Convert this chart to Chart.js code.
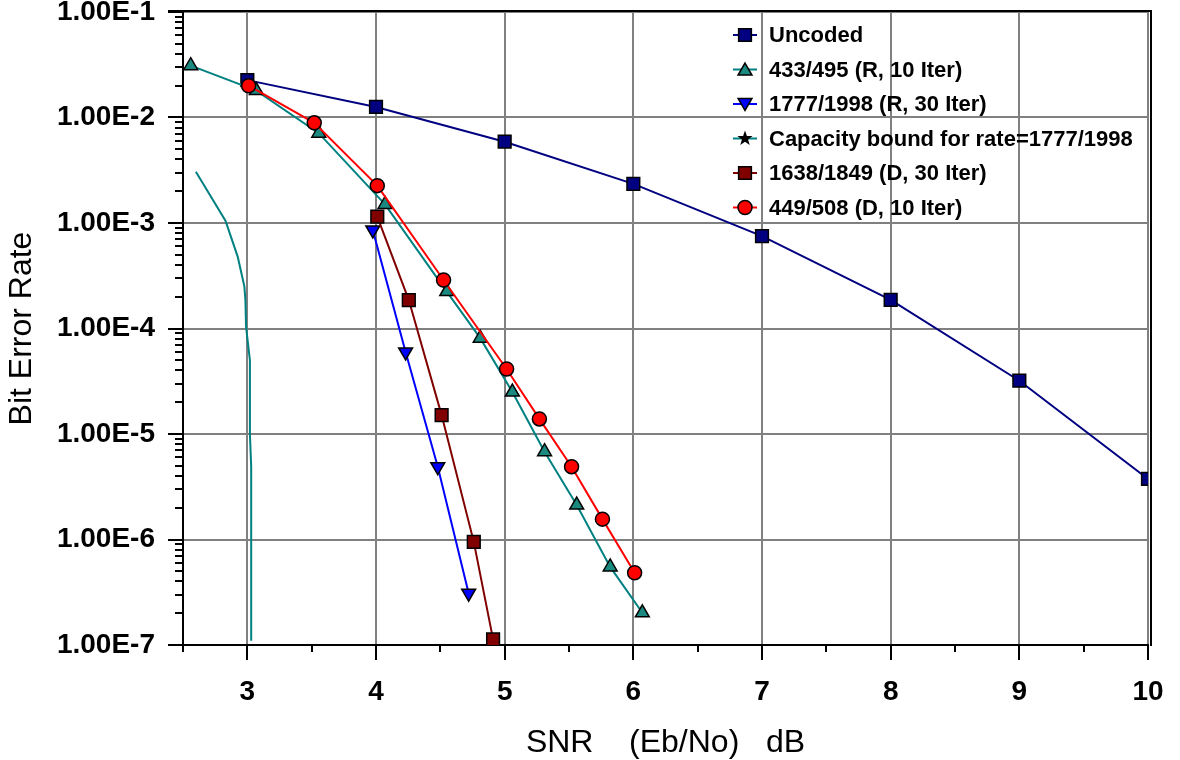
<!DOCTYPE html>
<html><head><meta charset="utf-8">
<script src="https://cdn.jsdelivr.net/npm/chart.js@4/dist/chart.umd.min.js"></script>
<style>html,body{margin:0;padding:0;background:#fff}</style>
</head><body>
<canvas id="c" width="1180" height="760"></canvas>
<script>
const seriesNames = ['Uncoded','433/495 (R, 10 Iter)','1777/1998 (R, 30 Iter)','Capacity bound for rate=1777/1998','1638/1849 (D, 30 Iter)','449/508 (D, 10 Iter)'];

const uncodedX = [3,4,5,6,7,8,9,10];
const uncodedY = [2.26e-2,1.26e-2,5.9e-3,2.35e-3,7.5e-4,1.87e-4,3.2e-5,3.75e-6];

const r433X = [2.56,3.07,3.555,4.07,4.55,4.81,5.06,5.31,5.56,5.82,6.07];
const r433Y = [3.1e-2,1.8e-2,7.1e-3,1.5e-3,2.24e-4,8.1e-5,2.5e-5,6.8e-6,2.12e-6,5.5e-7,2.02e-7];

const r1777X = [3.975,4.23,4.48,4.72];
const r1777Y = [8.6e-4,6.0e-5,4.9e-6,3.1e-7];

const capX = [2.60,2.83,2.925,2.977,2.985,2.99,3.02,3.02,3.03,3.03];
const capY = [3.06e-3,1.05e-3,4.8e-4,2.5e-4,1.86e-4,1.04e-4,5.0e-5,1.0e-5,4.9e-6,1.1e-7];

const d1638X = [4.01,4.255,4.51,4.76,4.91];
const d1638Y = [1.15e-3,1.86e-4,1.51e-5,9.5e-7,1.13e-7];

const d449X = [3.01,3.52,4.01,4.525,5.015,5.27,5.52,5.76,6.01];
const d449Y = [2.0e-2,8.9e-3,2.26e-3,2.88e-4,4.13e-5,1.39e-5,4.9e-6,1.56e-6,4.84e-7];

const xTickValues = [2.5,3,3.5,4,4.5,5,5.5,6,6.5,7,7.5,8,8.5,9,9.5,10];
const yDecades = [-7,-6,-5,-4,-3,-2,-1];

const FONT = '"Liberation Sans", Arial, sans-serif';

function pts(xs, ys){ return xs.map((v,i)=>({x:v,y:ys[i]})); }
function isDecade(v){ const l=Math.log10(v); return Math.abs(l-Math.round(l))<1e-9; }

const styles = [
  {color:'#000080', fill:'#000080', pointStyle:'rect', radius:9, rotation:0},
  {color:'#008080', fill:'#1a8a80', pointStyle:'triangle', radius:8, rotation:0},
  {color:'#0000ff', fill:'#0000ff', pointStyle:'triangle', radius:8, rotation:180},
  {color:'#008080', fill:'#000000', pointStyle:'star5', radius:0, rotation:0},
  {color:'#800000', fill:'#800000', pointStyle:'rect', radius:9, rotation:0},
  {color:'#ff0000', fill:'#ff0000', pointStyle:'circle', radius:7, rotation:0}
];
const seriesData = [pts(uncodedX,uncodedY), pts(r433X,r433Y), pts(r1777X,r1777Y), pts(capX,capY), pts(d1638X,d1638Y), pts(d449X,d449Y)];

const datasets = seriesNames.map((n,i)=>({
  label:n, data:seriesData[i],
  borderColor:styles[i].color, backgroundColor:styles[i].fill,
  pointStyle: styles[i].pointStyle==='star5' ? 'circle' : styles[i].pointStyle,
  pointRadius: styles[i].radius, pointRotation: styles[i].rotation,
  pointBorderColor:'#000', pointBorderWidth:1.5, pointBackgroundColor:styles[i].fill,
  borderWidth:2, tension:0, fill:false, showLine:true
}));
datasets.forEach((d,i)=>{ d.order = [5,3,2,4,1,0][i]; });

function drawMarker(ctx, st, x, y){
  ctx.save();
  ctx.fillStyle = st.fill; ctx.strokeStyle='#000'; ctx.lineWidth=1.5;
  ctx.beginPath();
  if (st.pointStyle==='rect'){ const s=st.radius*Math.SQRT1_2; ctx.rect(x-s,y-s,2*s,2*s); }
  else if (st.pointStyle==='circle'){ ctx.arc(x,y,st.radius,0,Math.PI*2); }
  else if (st.pointStyle==='triangle'){
    const r=st.radius, rot=st.rotation*Math.PI/180;
    for(let k=0;k<3;k++){ const a=rot - Math.PI/2 + k*2*Math.PI/3; const px=x+Math.cos(a)*r, py=y+Math.sin(a)*r + (st.rotation? -r*0.2 : r*0.2); k?ctx.lineTo(px,py):ctx.moveTo(px,py);} ctx.closePath();
  } else if (st.pointStyle==='star5'){
    const R=8, r=3.2;
    for(let k=0;k<10;k++){ const rad=k%2?r:R; const a=-Math.PI/2 + k*Math.PI/5; const px=x+Math.cos(a)*rad, py=y+Math.sin(a)*rad; k?ctx.lineTo(px,py):ctx.moveTo(px,py);} ctx.closePath();
  }
  ctx.fill(); if (st.pointStyle!=='star5') ctx.stroke();
  ctx.restore();
}

const framePlugin = {
  id:'framePlugin',
  afterDraw(chart){
    const {ctx, chartArea:a, scales:{x,y}} = chart;
    ctx.save();
    ctx.strokeStyle='#000'; ctx.lineWidth=2;
    y.ticks.forEach(t=>{ const py=Math.round(y.getPixelForValue(t.value)); const L=isDecade(t.value)?15:8; ctx.beginPath(); ctx.moveTo(a.left-L,py); ctx.lineTo(a.left,py); ctx.stroke(); });
    x.ticks.forEach(t=>{ const px=Math.round(x.getPixelForValue(t.value)); const L=Number.isInteger(t.value)?15:7; ctx.beginPath(); ctx.moveTo(px,a.bottom); ctx.lineTo(px,a.bottom+L); ctx.stroke(); });
    ctx.beginPath(); ctx.moveTo(a.left-15,a.top-1); ctx.lineTo(a.right+3,a.top-1); ctx.lineTo(a.right+3,a.bottom+1); ctx.stroke();
    ctx.font = 'bold 22px ' + FONT; ctx.textBaseline='middle'; ctx.textAlign='left'; ctx.fillStyle='#000';
    chart.data.datasets.forEach((d,i)=>{
      const yc = 35 + i*34.5;
      ctx.strokeStyle = d.borderColor; ctx.lineWidth=2;
      ctx.beginPath(); ctx.moveTo(733,yc); ctx.lineTo(757,yc); ctx.stroke();
      drawMarker(ctx, styles[i], 745, yc);
      ctx.fillStyle='#000';
      ctx.fillText(d.label, 769, yc+1);
    });
    ctx.restore();
  }
};

new Chart(document.getElementById('c'), {
  type:'line',
  data:{datasets},
  plugins:[framePlugin],
  options:{
    responsive:false, animation:false, devicePixelRatio:1,
    layout:{padding:{top:12,right:32,left:0,bottom:0}},
    plugins:{legend:{display:false}, tooltip:{enabled:false}},
    scales:{
      x:{type:'linear', min:2.5, max:10,
        afterBuildTicks(s){ s.ticks = xTickValues.map(v=>({value:v})); },
        afterFit(s){ s.height=115; s.paddingLeft=0; s.paddingRight=0; },
        ticks:{autoSkip:false, maxRotation:0, padding:30, color:'#000', font:{family:FONT, size:28, weight:'bold'},
          callback:(v)=>Number.isInteger(v)?String(v):''},
        grid:{drawTicks:false, lineWidth:2, color:(c)=> (c.tick && Number.isInteger(c.tick.value) ? '#808080' : 'rgba(0,0,0,0)')},
        border:{display:true, color:'#000', width:2},
        title:{display:true, text:'SNR    (Eb/No)   dB', color:'#000', font:{family:FONT, size:32, lineHeight:1.0}, padding:{top:0,bottom:1}}
      },
      y:{type:'logarithmic', min:1e-7, max:1e-1,
        afterBuildTicks(s){ const t=[]; yDecades.forEach(e=>{ if(e===-1){t.push({value:1e-1});return;} for(let m=1;m<=9;m++) t.push({value:parseFloat((m*Math.pow(10,e)).toPrecision(6))}); }); s.ticks=t; },
        afterFit(s){ s.width=183; s.paddingTop=0; s.paddingBottom=0; },
        ticks:{autoSkip:false, padding:28, color:'#000', font:{family:FONT, size:28, weight:'bold'},
          callback:(v)=> isDecade(v) ? '1.00E' + Math.round(Math.log10(v)) : ''},
        grid:{drawTicks:false, lineWidth:2, color:(c)=> (c.tick && isDecade(c.tick.value) ? '#808080' : 'rgba(0,0,0,0)')},
        border:{display:true, color:'#000', width:2},
        title:{display:true, text:'Bit Error Rate', color:'#000', font:{family:FONT, size:32, lineHeight:1.2}, padding:{top:3,bottom:0}}
      }
    }
  }
});
</script>
</body></html>
